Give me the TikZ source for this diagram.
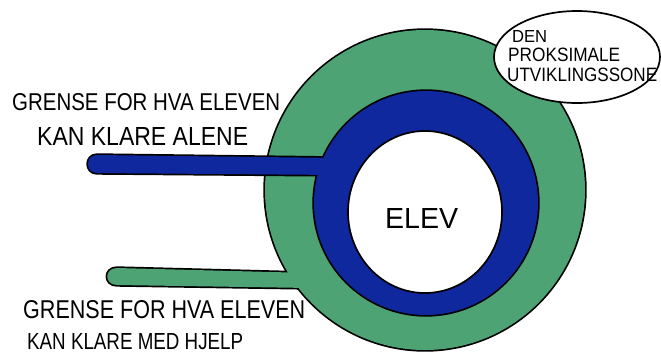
\documentclass[tikz,border=0pt]{standalone}
\usepackage{fontspec}
\setmainfont{Liberation Sans}
\usepackage{graphicx}
\definecolor{zpdgreen}{RGB}{77,163,115}
\definecolor{zpdblue}{RGB}{15,40,158}
% text squeezed into a box of given width and cap height (pt)
\newcommand{\hand}[3]{\resizebox{#1pt}{#2pt}{#3}}

\begin{document}
\begin{tikzpicture}[x=1pt,y=-1pt,
  txt/.style={inner sep=0pt, anchor=west},
  outline/.style={draw=black, line width=3.4pt},
  rim/.style={draw=black, line width=1.7pt}]
\useasboundingbox (0,0) rectangle (661,354);
\fill[white] (0,0) rectangle (661,354);

% outer (green) zone with its bar, outlined as one shape
\draw[outline] (425,190) circle [radius=160pt];
\draw[outline] (310,273) -- (117,268) .. controls (104,268) and (104,285) .. (117,285) -- (310,288) -- cycle;
\fill[zpdgreen] (425,190) circle [radius=160pt];
\fill[zpdgreen] (310,273) -- (117,268) .. controls (104,268) and (104,285) .. (117,285) -- (310,288) -- cycle;

% middle (blue) zone with its bar
\draw[outline] (426,203) circle [radius=112pt];
\draw[outline] (340,158) -- (97,155) .. controls (85,155) and (85,173) .. (97,173) -- (340,175) -- cycle;
\fill[zpdblue] (426,203) circle [radius=112pt];
\fill[zpdblue] (340,158) -- (97,155) .. controls (85,155) and (85,173) .. (97,173) -- (340,175) -- cycle;

% the pupil
\filldraw[fill=white, rim] (425,212) ellipse [x radius=77pt, y radius=81pt];

% speech bubble
\filldraw[fill=white, rim] (577,57) ellipse [x radius=83pt, y radius=46pt];

% labels
\node[txt] (alone1) at (12,102) {\hand{268}{17}{GRENSE FOR HVA ELEVEN}};
\node[txt] (alone2) at (37,136) {\hand{211}{18}{KAN KLARE ALENE}};
\node[txt] (help1) at (23,310) {\hand{282}{18}{GRENSE FOR HVA ELEVEN}};
\node[txt] (help2) at (27,342) {\hand{216}{16}{KAN KLARE MED HJELP}};
\node[txt] (elev) at (385,218) {\hand{73}{20}{ELEV}};
\node[txt] (zpd1) at (512,36) {\hand{35}{12}{DEN}};
\node[txt] (zpd2) at (508,55) {\hand{112}{13.5}{PROKSIMALE}};
\node[txt] (zpd3) at (507,74.5) {\hand{150}{13.5}{UTVIKLINGSSONE}};
\end{tikzpicture}
\end{document}
